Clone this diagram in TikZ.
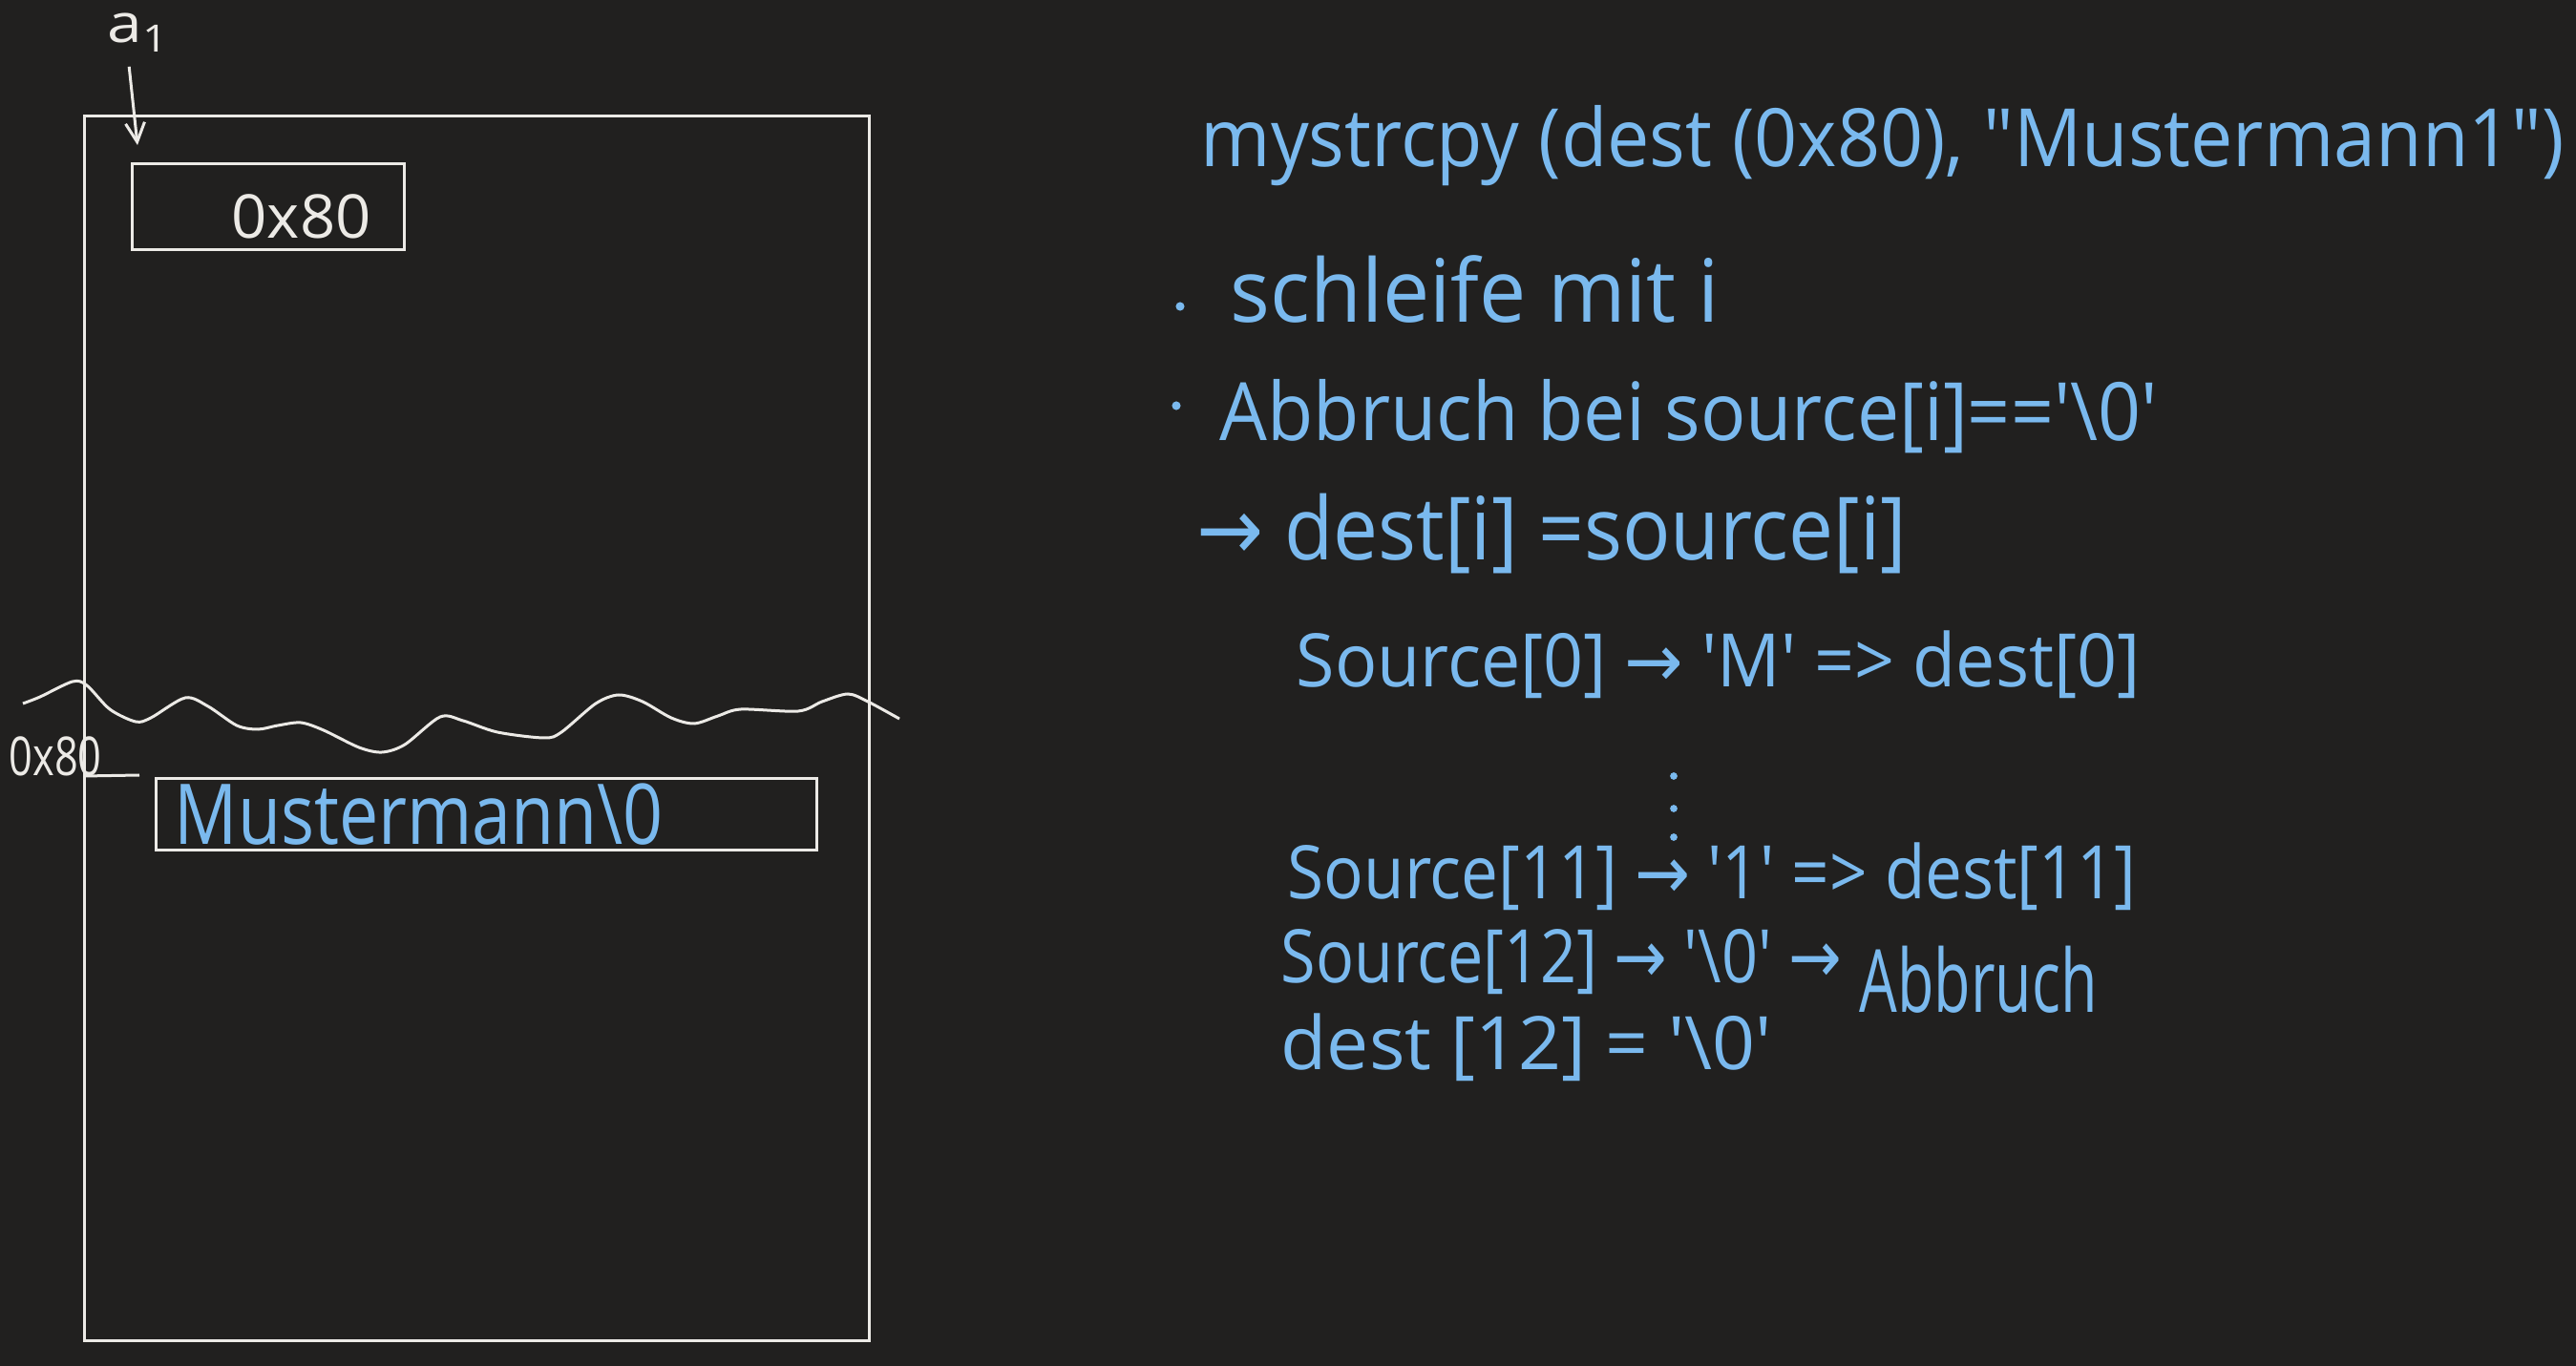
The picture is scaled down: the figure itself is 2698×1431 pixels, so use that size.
\documentclass[tikz,border=0pt]{standalone}
\usepackage{fontspec}
\usepackage{graphicx}
\setmainfont{Open Sans}[Ligatures=TeXOff]
\newfontfamily\arrowfont{DejaVu Sans}
\usetikzlibrary{arrows.meta,calc}
\definecolor{board}{RGB}{33,32,31}
\definecolor{chalk}{RGB}{236,234,230}
\definecolor{ink}{RGB}{122,185,238}
\newcommand{\hw}[2]{\resizebox{#1}{\height}{#2}}
\newcommand{\ra}{{\arrowfont →}}
\newcommand{\bs}{\textbackslash}

\begin{document}
\begin{tikzpicture}[x=0.1mm,y=-0.1mm,
    chalkline/.style={chalk, line width=0.3mm},
    box/.style={draw=chalk, line width=0.3mm, inner sep=0pt, outer sep=0pt},
    chalktext/.style={chalk, inner sep=0pt, anchor=base west},
    hand/.style={ink, inner sep=0pt, anchor=base west}]
    \fill[board] (0,0) rectangle (2698,1431);
    \useasboundingbox (0,0) rectangle (2698,1431);
    % memory
    \draw[chalkline] (88,122) rectangle (910,1404);
    \node[box, minimum width=28.5mm, minimum height=9mm] (ptrbox) at (280.5,217) {};
    \node[chalktext, font=\fontsize{18}{22}\selectfont] (ptrval) at (242,250) {\hw{14.6mm}{0x80}};
    \node[chalktext, font=\fontsize{16}{20}\selectfont] (a1) at (112,45) {\hw{6.5mm}{a\textsubscript{1}}};
    \coordinate (ptr) at (144,152);
    \draw[chalkline, -{Straight Barb[length=2mm,width=2mm]}] ([xshift=-1mm,yshift=-1.5mm]a1.south) -- (ptr);
    \draw[chalkline] plot[smooth] coordinates {(24,737) (42,730) (76,714) (91,718) (115,743) (142,756)
        (158,752) (194,731) (218,740) (248,760) (270,764) (291,760) (315,757) (339,765) (376,783)
        (400,788) (424,780) (461,751) (485,755) (521,767) (570,773) (588,767) (624,737) (648,728)
        (673,735) (703,752) (727,758) (752,750) (776,743) (836,745) (861,735) (888,727) (909,735) (942,753)};
    \node[chalktext, font=\fontsize{16}{20}\selectfont] (addr) at (9,813) {\hw{9.7mm}{0x80}};
    \coordinate (addrend) at (146,812);
    \draw[chalkline] ([xshift=-2mm]addr.base east) -- (addrend);
    \node[box, minimum width=69.2mm, minimum height=7.5mm] (strbox) at (509,853.5) {};
    \node[hand, font=\fontsize{25}{30}\selectfont] (strval) at (182,885) {\hw{51.2mm}{Mustermann\bs 0}};
    % notes
    \node[hand, font=\fontsize{24}{28}\selectfont] (call) at (1257,175) {\hw{142.8mm}{mystrcpy (dest (0x80), "Mustermann1")}};
    \fill[ink] (1236,321) circle (1.3pt);
    \node[hand, font=\fontsize{26}{30}\selectfont] (loop) at (1288,338) {\hw{51.2mm}{schleife mit i}};
    \fill[ink] (1232,425) circle (1.3pt);
    \node[hand, font=\fontsize{24}{28}\selectfont] (stop) at (1277,462) {\hw{98.2mm}{Abbruch bei source[i]=='\bs 0'}};
    \node[hand, font=\fontsize{26}{30}\selectfont] (copy) at (1253,587) {\hw{74.3mm}{\ra\ dest[i] =source[i]}};
    \node[hand, font=\fontsize{22}{26}\selectfont] (step0) at (1357,720) {\hw{88.4mm}{Source[0] \ra\ 'M' => dest[0]}};
    \foreach \y in {813,847,877}
        \fill[ink] (1753,\y) circle (1.1pt);
    \node[hand, font=\fontsize{22}{26}\selectfont] (step11) at (1348,942) {\hw{88.9mm}{Source[11] \ra\ '1' => dest[11]}};
    \node[hand, font=\fontsize{22}{26}\selectfont] (step12) at (1341,1030) {\hw{58.7mm}{Source[12] \ra\ '\bs 0' \ra}};
    \node[hand, font=\fontsize{26}{30}\selectfont] (abort) at (1947,1060) {\hw{24.9mm}{Abbruch}};
    \node[hand, font=\fontsize{22}{26}\selectfont] (term) at (1341,1120) {\hw{51.4mm}{dest [12] = '\bs 0'}};
\end{tikzpicture}
\end{document}
